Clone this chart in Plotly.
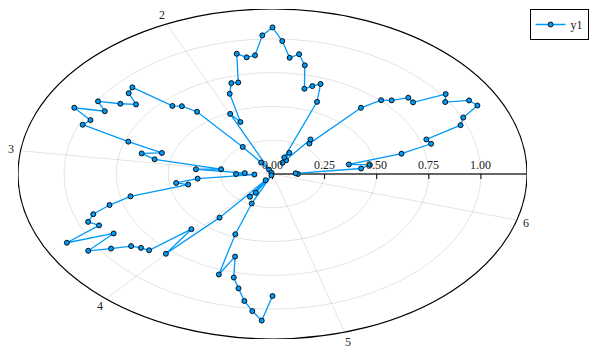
import numpy as np
import plotly.graph_objects as go

# angle of each sample (radians)
theta = [0.0000, 0.0476, 0.0952, 0.1428, 0.1904, 0.2380, 0.2856, 0.3332, 0.3808, 0.4284,
         0.4760, 0.5236, 0.5712, 0.6188, 0.6664, 0.7140, 0.7616, 0.8092, 0.8568, 0.9044,
         0.9520, 0.9996, 1.0472, 1.0948, 1.1424, 1.1900, 1.2376, 1.2852, 1.3328, 1.3804,
         1.4280, 1.4756, 1.5232, 1.5708, 1.6184, 1.6660, 1.7136, 1.7612, 1.8088, 1.8564,
         1.9040, 1.9516, 1.9992, 2.0468, 2.0944, 2.1420, 2.1896, 2.2372, 2.2848, 2.3324,
         2.3800, 2.4276, 2.4752, 2.5228, 2.5704, 2.6180, 2.6656, 2.7132, 2.7608, 2.8084,
         2.8560, 2.9036, 2.9512, 2.9988, 3.0464, 3.0940, 3.1416, 3.1892, 3.2368, 3.2844,
         3.3320, 3.3796, 3.4272, 3.4748, 3.5224, 3.5700, 3.6176, 3.6652, 3.7128, 3.7604,
         3.8080, 3.8556, 3.9032, 3.9508, 3.9984, 4.0460, 4.0936, 4.1412, 4.1888, 4.2364,
         4.2840, 4.3316, 4.3792, 4.4268, 4.4744, 4.5220, 4.5696, 4.6172, 4.6648, 4.7124]

# radius of each sample
radius = [0.122, 0.111, 0.427, 0.472, 0.373, 0.637, 0.793, 0.781, 0.972, 1.006,
          1.106, 1.089, 0.985, 1.020, 0.858, 0.862, 0.790, 0.755, 0.648, 0.286,
          0.314, 0.121, 0.096, 0.176, 0.135, 0.575, 0.705, 0.678, 0.649, 0.819,
          0.896, 0.864, 0.985, 1.085, 1.027, 0.882, 0.872, 0.906, 0.697, 0.701,
          0.628, 0.414, 0.489, 0.036, 0.010, 0.101, 0.246, 0.586, 0.664, 0.696,
          0.929, 0.913, 0.833, 0.896, 0.995, 0.929, 1.070, 0.960, 0.981, 0.732,
          0.553, 0.646, 0.576, 0.249, 0.369, 0.133, 0.175, 0.087, 0.361, 0.467,
          0.412, 0.701, 0.815, 0.910, 0.953, 0.915, 1.110, 0.880, 1.051, 0.951,
          0.863, 0.835, 0.818, 0.564, 0.781, 0.411, 0.057, 0.200, 0.160, 0.011,
          0.240, 0.480, 0.787, 0.637, 0.788, 0.862, 0.949, 1.019, 1.086, 0.903]

radial_ticks = [0.0, 0.25, 0.5, 0.75, 1.0]
radial_labels = ["0.00", "0.25", "0.50", "0.75", "1.00"]
angle_ticks = [2, 3, 4, 5, 6]
angle_labels = ["2", "3", "4", "5", "6"]

SERIES_COLOR = "#009af9"
GRID = "rgba(0,0,0,0.11)"
FONT = "Liberation Serif"

th = np.array(theta)
rr = np.array(radius)
R = 1.1 * rr.max()

fig = go.Figure()
fig.add_trace(go.Scatter(
    x=rr * np.cos(th), y=rr * np.sin(th),
    mode="lines+markers", name="y1",
    line=dict(color=SERIES_COLOR, width=1.3),
    marker=dict(size=5, color=SERIES_COLOR, line=dict(color="black", width=0.9)),
))

shapes = []
for g in radial_ticks[1:]:
    shapes.append(dict(type="circle", xref="x", yref="y", x0=-g, x1=g, y0=-g, y1=g,
                       line=dict(color=GRID, width=1), layer="below"))
for a in angle_ticks:
    shapes.append(dict(type="line", xref="x", yref="y", x0=0, y0=0,
                       x1=R * np.cos(a), y1=R * np.sin(a),
                       line=dict(color=GRID, width=1), layer="below"))
shapes.append(dict(type="circle", xref="x", yref="y", x0=-R, x1=R, y0=-R, y1=R,
                   line=dict(color="black", width=1.2), layer="below"))
shapes.append(dict(type="line", xref="x", yref="y", x0=0, y0=0, x1=R, y1=0,
                   line=dict(color="#333333", width=1.4), layer="below"))
for t in radial_ticks:
    shapes.append(dict(type="line", xref="x", yref="y", ysizemode="pixel", yanchor=0,
                       x0=t, x1=t, y0=0, y1=-5,
                       line=dict(color="black", width=1), layer="below"))

annotations = []
for t, lab in zip(radial_ticks, radial_labels):
    annotations.append(dict(x=t, y=0, xref="x", yref="y", text=lab, showarrow=False,
                            xanchor="center", yanchor="middle", yshift=9,
                            font=dict(family=FONT, size=12, color="#222222")))
for a, lab in zip(angle_ticks, angle_labels):
    annotations.append(dict(x=R * np.cos(a), y=R * np.sin(a), xref="x", yref="y",
                            text=lab, showarrow=False, xanchor="center", yanchor="middle",
                            xshift=10 * np.cos(a), yshift=10 * np.sin(a),
                            font=dict(family=FONT, size=12, color="#222222")))

fig.update_layout(
    width=598, height=357,
    margin=dict(l=18, r=69, t=9, b=18),
    paper_bgcolor="white", plot_bgcolor="white",
    xaxis=dict(visible=False, range=[-R, R], fixedrange=True),
    yaxis=dict(visible=False, range=[-R, R], fixedrange=True),
    shapes=shapes, annotations=annotations,
    showlegend=True,
    legend=dict(x=1.121, y=1.0, xanchor="right", yanchor="top",
                bordercolor="black", borderwidth=1, bgcolor="white",
                font=dict(family=FONT, size=12, color="#222222"),
                itemwidth=30, tracegroupgap=0),
    font=dict(family=FONT),
)

fig.write_html("out.html", config={"displayModeBar": False},
               post_script="document.body.style.margin='0px';")
